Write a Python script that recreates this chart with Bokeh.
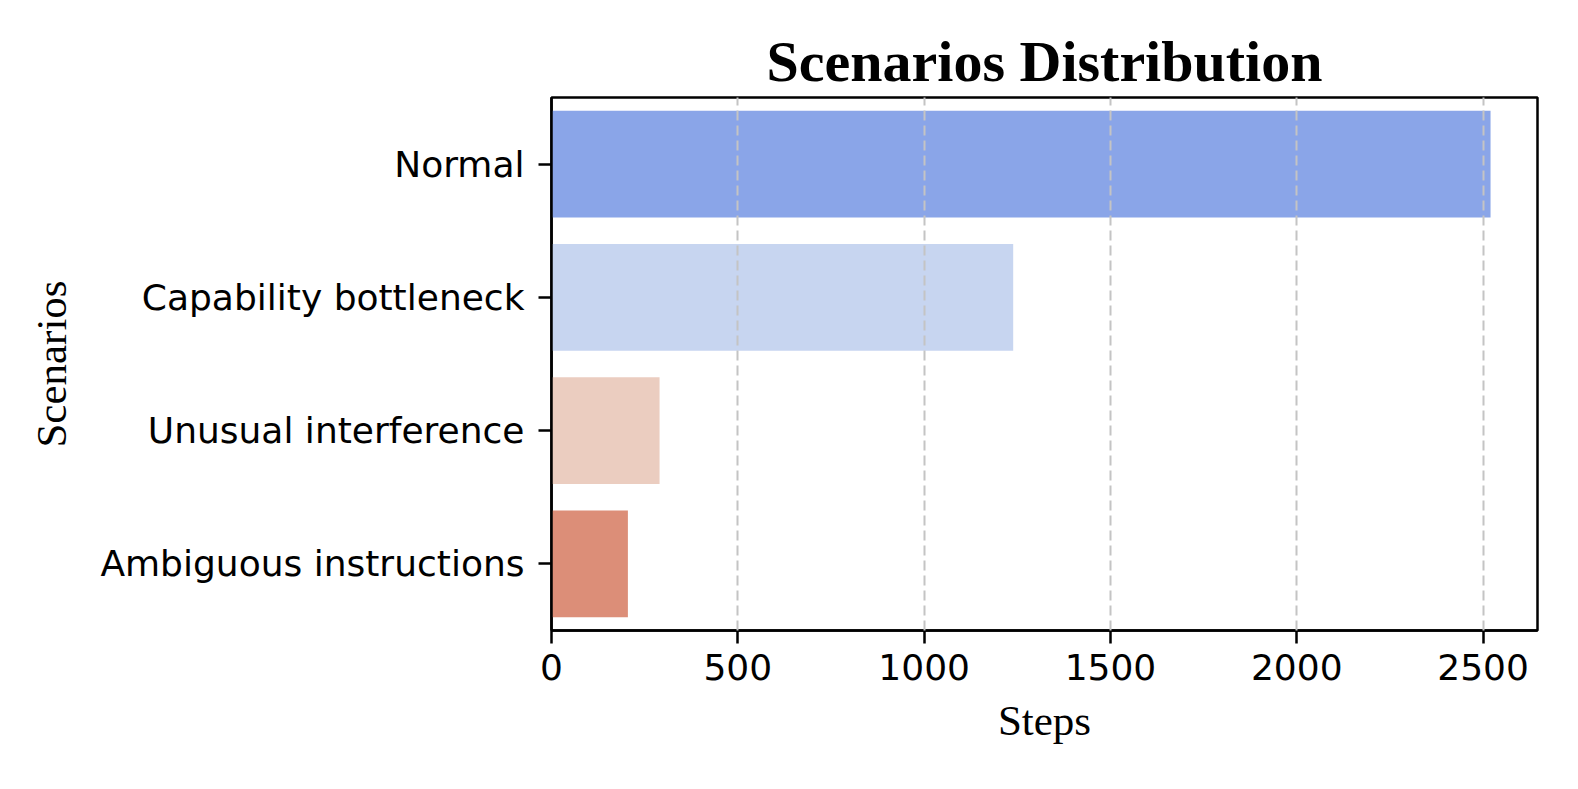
from bokeh.plotting import figure
from bokeh.models import FactorRange, Range1d, ColumnDataSource
from bokeh.embed import file_html
from bokeh.resources import INLINE

scenarios = ["Normal", "Capability bottleneck", "Unusual interference", "Ambiguous instructions"]
steps = [2520, 1239, 290, 205]
colors = ["#8aa5e8", "#c7d5f0", "#ebcdc0", "#dc8e78"]
x_ticks = [0, 500, 1000, 1500, 2000, 2500]

src = ColumnDataSource(dict(y=scenarios, x=steps, c=colors))

p = figure(width=1562, height=773,
           y_range=FactorRange(factors=scenarios[::-1]),
           x_range=Range1d(0, max(steps) * 1.05),
           output_backend="svg", toolbar_location=None,
           min_border_left=551, min_border_right=25,
           min_border_top=97, min_border_bottom=143)

p.hbar(y="y", right="x", left=0, height=0.8, fill_color="c",
       line_color=None, source=src)

p.title.text = "Scenarios Distribution"
p.title.text_font = "Liberation Serif"
p.title.text_font_style = "bold"
p.title.text_font_size = "58px"
p.title.text_color = "black"
p.title.align = "center"
p.title.standoff = 8

p.outline_line_color = "black"
p.outline_line_width = 2.5
p.background_fill_color = "white"
p.border_fill_color = "white"

p.xaxis.ticker = x_ticks
p.xaxis.minor_tick_line_color = None
p.yaxis.minor_tick_line_color = None

for ax in (p.xaxis, p.yaxis):
    ax.axis_line_width = 2.5
    ax.axis_line_color = "black"
    ax.major_tick_line_width = 2.5
    ax.major_tick_out = 13
    ax.major_tick_in = 0
    ax.major_label_text_font = "DejaVu Sans"
    ax.major_label_text_font_size = "36px"
    ax.major_label_text_color = "black"
    ax.axis_label_text_font = "Liberation Serif"
    ax.axis_label_text_font_size = "43px"
    ax.axis_label_text_font_style = "normal"
    ax.axis_label_text_color = "black"

p.xaxis.axis_label = "Steps"
p.yaxis.axis_label = "Scenarios"
p.xaxis.major_label_standoff = 10
p.yaxis.major_label_standoff = 14
p.xaxis.axis_label_standoff = 14
p.yaxis.axis_label_standoff = 22

p.ygrid.visible = False
p.xgrid.grid_line_color = "#c4c4c4"
p.xgrid.grid_line_dash = "10 5"
p.xgrid.grid_line_width = 2
p.xgrid.level = "overlay"

open("out.html", "w").write(file_html(p, INLINE))
